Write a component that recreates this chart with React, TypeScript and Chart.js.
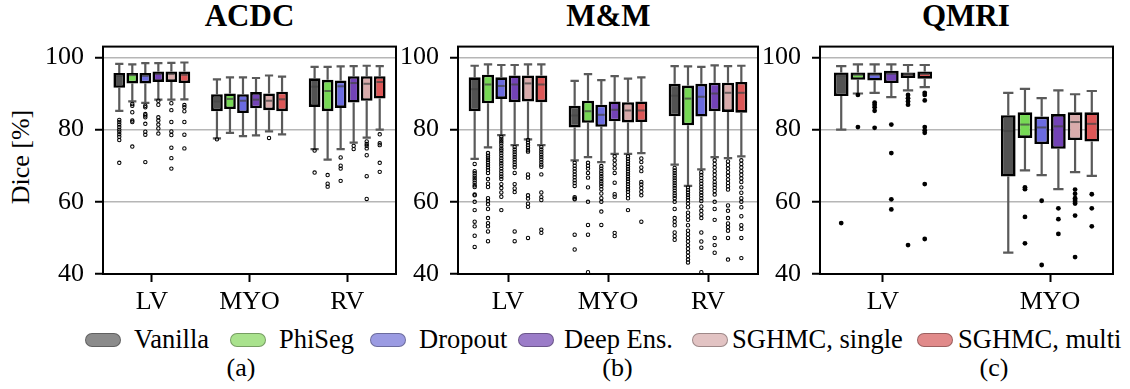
import React, { useEffect, useRef } from 'react';
import { Chart, registerables } from 'chart.js';

Chart.register(...registerables);

// ---------------- data ----------------
const seriesNames = ['Vanilla', 'PhiSeg', 'Dropout', 'Deep Ens.', 'SGHMC, single', 'SGHMC, multi'];
const yTickValues = [40, 60, 80, 100];

// ACDC (per series: [LV, MYO, RV])
const acdcCategories = ['LV', 'MYO', 'RV'];
const acdcPositions = [0, 1, 2];
const acdcWhiskerHigh = [
  [98.2, 93.9, 97.4], [98.1, 94.5, 97.4], [98.4, 94.5, 97.5],
  [98.4, 94.3, 97.6], [98.5, 95.0, 97.7], [98.6, 94.7, 97.6],
];
const acdcQ3 = [
  [95.7, 89.8, 94.2], [95.7, 90.0, 93.8], [95.7, 89.8, 93.6],
  [96.1, 90.4, 94.8], [96.1, 90.0, 94.8], [96.1, 90.5, 94.8],
];
const acdcMedian = [
  [94.9, 87.8, 91.9], [95.1, 88.5, 90.7], [94.9, 88.0, 92.0],
  [95.4, 88.3, 92.9], [95.4, 88.0, 92.7], [95.2, 88.4, 93.2],
];
const acdcQ1 = [
  [91.6, 85.1, 86.3], [92.8, 85.7, 85.1], [92.8, 84.6, 86.0],
  [93.2, 85.9, 87.5], [93.2, 85.4, 88.0], [92.9, 85.1, 88.6],
];
const acdcWhiskerLow = [
  [85.2, 77.6, 74.6], [87.8, 79.1, 71.7], [87.4, 78.2, 74.6],
  [88.3, 78.4, 76.4], [88.3, 79.5, 77.8], [88.4, 78.7, 80.0],
];
const acdcOutliers = [
  [[82.7, 82.1, 81.4, 80.7, 80.0, 79.4, 78.7, 78.0, 77.1, 70.8], [77.3], [74.2, 68.1]],
  [[87.1, 86.6, 84.8, 82.5, 82.1, 75.3], [], [67.4, 65.0, 64.2]],
  [[86.6, 86.2, 84.3, 83.9, 83.4, 81.6, 79.4, 78.6, 71.0], [], [72.3, 70.0, 69.2, 65.8]],
  [[88.0, 86.9, 83.4, 82.5, 81.4, 80.3, 78.9], [], [75.5, 74.6]],
  [[87.3, 85.4, 82.1, 79.5, 78.5, 75.0, 72.1, 69.2], [77.7], [76.7, 76.0, 75.5, 74.8, 72.9, 67.1, 60.8]],
  [[86.8, 86.2, 85.1, 82.1, 78.6, 74.8], [], [78.7, 76.2, 75.7, 70.8, 68.3]],
];

// M&M (per series: [LV, MYO, RV])
const mmCategories = ['LV', 'MYO', 'RV'];
const mmPositions = [0, 1, 2];
const mmWhiskerHigh = [
  [97.7, 93.5, 97.6], [98.1, 95.4, 97.5], [97.9, 93.7, 97.4],
  [97.9, 94.8, 97.8], [98.1, 94.1, 97.6], [98.1, 94.5, 97.7],
];
const mmQ3 = [
  [94.5, 86.6, 92.7], [95.2, 88.0, 92.2], [94.5, 86.9, 92.7],
  [95.0, 87.8, 93.0], [95.0, 87.6, 93.0], [95.0, 87.8, 93.2],
];
const mmMedian = [
  [91.2, 83.9, 89.4], [92.5, 85.1, 88.6], [92.1, 84.1, 89.1],
  [92.5, 85.5, 90.0], [92.8, 85.3, 90.2], [92.5, 85.3, 90.2],
];
const mmQ1 = [
  [85.1, 80.6, 83.7], [87.3, 81.9, 81.2], [88.5, 80.8, 83.6],
  [87.6, 82.3, 85.1], [87.8, 82.0, 84.9], [87.6, 82.1, 84.7],
];
const mmWhiskerLow = [
  [71.9, 71.5, 70.3], [75.1, 72.4, 64.4], [78.5, 71.0, 69.0],
  [75.7, 73.3, 72.4], [77.3, 73.3, 72.1], [75.7, 73.5, 72.6],
];
const mmOutliers = [
  [
    [70.5, 68.5, 67.9, 67.2, 66.6, 66.0, 65.3, 64.6, 64.1, 62.0, 61.8, 60.0, 57.7, 54.5, 53.2, 50.6, 47.5],
    [70.8, 70.0, 69.2, 68.4, 67.6, 66.8, 66.0, 65.2, 64.4, 61.3, 60.9, 60.7, 50.9, 46.8],
    [69.4, 68.7, 68.0, 67.3, 66.6, 65.9, 65.2, 64.5, 63.8, 63.1, 62.4, 61.7, 61.0, 60.0, 58.0, 55.5, 54.5, 53.5, 51.5, 50.5, 49.5],
  ],
  [
    [73.5, 72.8, 72.2, 71.6, 70.9, 70.2, 69.5, 68.8, 68.0, 66.3, 65.0, 64.1, 61.0, 60.2, 59.3, 58.0, 55.5, 54.1, 53.2, 51.8, 49.1],
    [70.8, 70.0, 69.2, 68.0, 66.7, 64.0, 60.0, 53.6, 50.9, 40.5],
    [64.0, 63.3, 62.6, 61.9, 61.2, 60.5, 59.5, 58.5, 57.0, 56.0, 55.0, 53.5, 52.0, 51.0, 50.0, 49.0, 48.0, 47.0, 46.0, 45.0, 44.0, 43.2],
  ],
  [
    [78.0, 77.4, 76.8, 76.2, 75.5, 74.8, 74.2, 73.5, 72.8, 72.1, 71.4, 70.7, 70.0, 69.2, 68.5, 67.7, 67.0, 66.3, 64.9, 63.8, 62.6, 61.4, 57.7],
    [69.9, 69.2, 68.5, 67.8, 67.1, 66.4, 65.7, 65.0, 64.3, 63.5, 62.3, 61.0, 60.0, 57.3, 53.6],
    [68.2, 67.4, 66.6, 65.8, 65.0, 64.2, 63.4, 62.6, 61.8, 61.0, 60.2, 58.7, 57.5, 56.5, 55.5, 51.5, 49.0, 47.3, 40.5],
  ],
  [
    [75.2, 74.5, 73.8, 73.1, 72.4, 71.7, 71.0, 70.3, 69.6, 68.0, 64.9, 63.7, 62.7, 51.8, 49.1],
    [72.6, 71.5, 70.4, 69.3, 68.0, 65.3, 62.1, 61.4, 51.4, 50.5],
    [71.5, 70.5, 69.5, 68.5, 67.5, 66.5, 65.5, 64.7, 63.9, 63.0, 62.0, 60.0, 58.0, 55.0, 50.0, 48.0, 45.9],
  ],
  [
    [77.1, 76.4, 75.7, 75.0, 74.3, 73.9, 67.6, 66.7, 61.8, 60.9, 59.5, 58.6, 50.0],
    [72.6, 71.9, 71.2, 70.5, 69.8, 69.1, 68.4, 67.7, 67.0, 66.3, 65.6, 64.9, 64.2, 63.5, 62.8, 61.9, 61.0, 57.7],
    [71.2, 70.2, 69.2, 68.2, 67.2, 66.2, 65.2, 64.3, 63.4, 59.0, 57.5, 55.5, 54.0, 53.0, 52.0, 50.0, 44.0],
  ],
  [
    [75.2, 74.5, 73.8, 73.1, 72.4, 71.7, 71.0, 70.3, 69.7, 67.6, 62.6, 61.3, 60.5, 52.3, 51.4],
    [72.0, 71.0, 69.5, 68.5, 65.5, 64.8, 63.8, 62.8, 61.8, 54.5],
    [71.5, 70.5, 69.5, 68.5, 67.5, 66.5, 65.5, 64.0, 62.5, 61.0, 60.0, 58.5, 56.0, 53.5, 52.5, 50.0, 44.4],
  ],
];

// QMRI (per series: [LV, MYO])
const qmriCategories = ['LV', 'MYO'];
const qmriPositions = [0, 1];
const qmriWhiskerHigh = [[97.6, 90.2], [98.1, 91.3], [98.1, 88.7], [98.1, 90.9], [97.9, 89.8], [97.9, 90.7]];
const qmriQ3 = [[95.8, 84.0], [95.8, 84.8], [95.8, 83.6], [96.3, 84.3], [95.8, 84.8], [96.1, 84.8]];
const qmriMedian = [[95.0, 79.6], [95.2, 81.4], [95.2, 80.6], [95.5, 80.9], [95.4, 82.1], [95.4, 81.6]];
const qmriQ1 = [[89.3, 67.0], [93.8, 77.7], [93.6, 76.0], [92.9, 74.7], [94.3, 77.1], [94.1, 76.7]];
const qmriWhiskerLow = [[80.0, 45.9], [90.0, 68.7], [90.2, 67.4], [89.0, 63.5], [90.9, 68.2], [91.8, 67.2]];
const qmriOutliers = [
  [[54.1], []],
  [[89.6, 80.7], [64.0, 63.5, 55.8, 48.5]],
  [[87.5, 86.9, 86.2, 85.2, 80.5], [60.3, 42.5]],
  [[81.4, 73.5, 60.7, 57.9], [58.2, 55.2, 51.1]],
  [[89.6, 88.7, 87.8, 86.9, 48.0], [63.4, 62.2, 61.0, 60.5, 60.0, 59.5, 56.2, 44.7]],
  [[90.2, 89.6, 88.1, 80.7, 79.8, 79.1, 64.9, 49.7], [62.1, 58.2, 53.2]],
];

// ---------------- styles ----------------
const FONT = "'Liberation Serif', 'Times New Roman', serif";
const boxColors = ['#525252', '#77d955', '#6b6be0', '#7343b6', '#d9abab', '#dc5757'];
const legendColors = ['#8b8b8b', '#a9e28d', '#9b9be2', '#9b7cc8', '#e2c3c3', '#e18a8a'];

type PanelDef = {
  title: string;
  tag: string;
  categories: string[];
  positions: number[];
  low: number[][];
  q1: number[][];
  med: number[][];
  q3: number[][];
  high: number[][];
  outliers: number[][][];
  xMin: number;
  xMax: number;
  catPct: number;
  barPct: number;
  filled: boolean;
  plotLeft: number;
  plotRight: number;
  titleCenter: number;
  tagCenter: number;
};

const panels: PanelDef[] = [
  {
    title: 'ACDC', tag: '(a)', categories: acdcCategories, positions: acdcPositions,
    low: acdcWhiskerLow, q1: acdcQ1, med: acdcMedian, q3: acdcQ3, high: acdcWhiskerHigh, outliers: acdcOutliers,
    xMin: -0.5, xMax: 2.5, catPct: 0.8, barPct: 0.9, filled: false,
    plotLeft: 103, plotRight: 396, titleCenter: 249.5, tagCenter: 241,
  },
  {
    title: 'M&M', tag: '(b)', categories: mmCategories, positions: mmPositions,
    low: mmWhiskerLow, q1: mmQ1, med: mmMedian, q3: mmQ3, high: mmWhiskerHigh, outliers: mmOutliers,
    xMin: -0.5, xMax: 2.5, catPct: 0.8, barPct: 0.9, filled: false,
    plotLeft: 458, plotRight: 758, titleCenter: 608.3, tagCenter: 617.5,
  },
  {
    title: 'QMRI', tag: '(c)', categories: qmriCategories, positions: qmriPositions,
    low: qmriWhiskerLow, q1: qmriQ1, med: qmriMedian, q3: qmriQ3, high: qmriWhiskerHigh, outliers: qmriOutliers,
    xMin: -0.377, xMax: 1.377, catPct: 0.6, barPct: 0.88, filled: true,
    plotLeft: 820, plotRight: 1113, titleCenter: 965.8, tagCenter: 994,
  },
];

const CANVAS_TOP = 20;
const PLOT_TOP = 41;
const PLOT_BOTTOM = 274;
const Y_AXIS_W = 65;
const X_AXIS_H = 50;
const PAD_RIGHT = 4;
const BOX_BORDER = 2.6;

function makeBoxPlugin(p: PanelDef) {
  return {
    id: 'boxExtras',
    beforeDatasetsDraw(chart: any) {
      const ctx = chart.ctx;
      const ys = chart.scales.y;
      ctx.save();
      ctx.strokeStyle = '#5a5a5a';
      ctx.lineWidth = 2.2;
      p.q1.forEach((row, i) => {
        const meta = chart.getDatasetMeta(i);
        row.forEach((v, j) => {
          const el = meta.data[j];
          if (!el) return;
          const x = el.x;
          const cw = el.width * 0.7;
          const yl = ys.getPixelForValue(p.low[i][j]);
          const yq1 = ys.getPixelForValue(v);
          const yq3 = ys.getPixelForValue(p.q3[i][j]);
          const yh = ys.getPixelForValue(p.high[i][j]);
          ctx.beginPath();
          ctx.moveTo(x, yq1); ctx.lineTo(x, yl);
          ctx.moveTo(x, yq3); ctx.lineTo(x, yh);
          ctx.moveTo(x - cw / 2, yl); ctx.lineTo(x + cw / 2, yl);
          ctx.moveTo(x - cw / 2, yh); ctx.lineTo(x + cw / 2, yh);
          ctx.stroke();
        });
      });
      ctx.restore();
    },
    afterDatasetsDraw(chart: any) {
      const ctx = chart.ctx;
      const ys = chart.scales.y;
      const area = chart.chartArea;
      ctx.save();
      // medians
      ctx.strokeStyle = 'rgba(70,70,70,0.75)';
      ctx.lineWidth = 2;
      p.med.forEach((row, i) => {
        const meta = chart.getDatasetMeta(i);
        row.forEach((v, j) => {
          const el = meta.data[j];
          if (!el) return;
          const y = ys.getPixelForValue(v);
          ctx.beginPath();
          ctx.moveTo(el.x - el.width / 2 + BOX_BORDER, y);
          ctx.lineTo(el.x + el.width / 2 - BOX_BORDER, y);
          ctx.stroke();
        });
      });
      // outliers
      p.outliers.forEach((perCat, i) => {
        const meta = chart.getDatasetMeta(i);
        perCat.forEach((vals, j) => {
          const el = meta.data[j];
          if (!el) return;
          vals.forEach((v) => {
            const y = ys.getPixelForValue(v);
            ctx.beginPath();
            if (p.filled) {
              ctx.arc(el.x, y, 2.4, 0, Math.PI * 2);
              ctx.fillStyle = '#000';
              ctx.fill();
            } else {
              ctx.arc(el.x, y, 1.7, 0, Math.PI * 2);
              ctx.strokeStyle = '#000';
              ctx.lineWidth = 1.05;
              ctx.stroke();
            }
          });
        });
      });
      // frame
      ctx.strokeStyle = '#000';
      ctx.lineWidth = 2;
      ctx.strokeRect(area.left, area.top, area.right - area.left, area.bottom - area.top);
      ctx.restore();
    },
  };
}

function Panel({ p }: { p: PanelDef }) {
  const ref = useRef<HTMLCanvasElement | null>(null);
  const canvasLeft = p.plotLeft - Y_AXIS_W;
  const canvasWidth = p.plotRight - canvasLeft + PAD_RIGHT;
  const canvasHeight = PLOT_BOTTOM - CANVAS_TOP + X_AXIS_H;

  useEffect(() => {
    if (!ref.current) return;
    const datasets = seriesNames.map((name, i) => ({
      label: name,
      data: p.positions.map((pos, j) => ({ x: pos, y: [p.q1[i][j], p.q3[i][j]] })),
      backgroundColor: boxColors[i],
      borderColor: '#000',
      borderWidth: BOX_BORDER,
      borderSkipped: false,
      categoryPercentage: p.catPct,
      barPercentage: p.barPct,
    }));
    const chart = new Chart(ref.current, {
      type: 'bar',
      data: { datasets } as any,
      plugins: [makeBoxPlugin(p)],
      options: {
        animation: false,
        responsive: false,
        devicePixelRatio: 1,
        events: [],
        layout: { padding: { top: PLOT_TOP - CANVAS_TOP, right: PAD_RIGHT, left: 0, bottom: 0 } },
        plugins: { legend: { display: false }, tooltip: { enabled: false }, title: { display: false } },
        scales: {
          x: {
            type: 'linear',
            min: p.xMin,
            max: p.xMax,
            offset: false,
            border: { display: false },
            grid: {
              display: true, offset: false, drawOnChartArea: false, drawTicks: true,
              tickLength: 8, tickWidth: 2, tickColor: '#000',
            },
            afterBuildTicks: (axis: any) => {
              axis.ticks = p.positions.map((v) => ({ value: v }));
            },
            afterFit: (axis: any) => { axis.height = X_AXIS_H; },
            ticks: {
              padding: 5,
              color: '#000',
              font: { family: FONT, size: 26 },
              maxRotation: 0,
              autoSkip: false,
              callback: (_v: any, idx: number) => p.categories[idx],
            },
          },
          y: {
            type: 'linear',
            min: 40,
            max: 103,
            border: { display: false },
            grid: {
              color: '#b6b6b6', lineWidth: 1.5, drawTicks: true,
              tickLength: 8, tickWidth: 2, tickColor: '#000',
            },
            afterBuildTicks: (axis: any) => {
              axis.ticks = yTickValues.map((v) => ({ value: v }));
            },
            afterFit: (axis: any) => { axis.width = Y_AXIS_W; },
            ticks: {
              padding: 11,
              color: '#000',
              font: { family: FONT, size: 26 },
              callback: (v: any) => String(v),
            },
          },
        },
      } as any,
    });
    return () => chart.destroy();
  }, [p]);

  return (
    <>
      <div
        style={{
          position: 'absolute', left: p.titleCenter - 150, top: 0, width: 300, textAlign: 'center',
          fontFamily: FONT, fontWeight: 'bold', fontSize: 31, lineHeight: '31px', color: '#000',
        }}
      >
        {p.title}
      </div>
      <canvas
        ref={ref}
        width={canvasWidth}
        height={canvasHeight}
        style={{ position: 'absolute', left: canvasLeft, top: CANVAS_TOP, width: canvasWidth, height: canvasHeight }}
      />
      <div
        style={{
          position: 'absolute', left: p.tagCenter - 50, top: 355, width: 100, textAlign: 'center',
          fontFamily: FONT, fontSize: 26, lineHeight: '26px', color: '#000',
        }}
      >
        {p.tag}
      </div>
    </>
  );
}

const legendPatchLefts = [85, 230, 370, 518, 692, 917];
const legendTextLefts = [134, 279, 419, 564, 732, 958];

export default function App() {
  return (
    <div
      style={{
        position: 'absolute', left: 0, top: 0, width: 1130, height: 389, background: '#fff', overflow: 'hidden',
      }}
    >
      {panels.map((p) => (
        <Panel key={p.title} p={p} />
      ))}
      <div
        style={{
          position: 'absolute', left: 21 - 100, top: 157 - 13, width: 200, height: 26, textAlign: 'center',
          fontFamily: FONT, fontSize: 26, lineHeight: '26px', color: '#000', transform: 'rotate(-90deg)',
          whiteSpace: 'nowrap',
        }}
      >
        Dice [%]
      </div>
      {seriesNames.map((name, i) => (
        <React.Fragment key={name}>
          <div
            style={{
              position: 'absolute', left: legendPatchLefts[i], top: 333, width: 36, height: 14,
              borderRadius: 7, background: legendColors[i], border: '1px solid rgba(0,0,0,0.3)', boxSizing: 'border-box',
            }}
          />
          <div
            style={{
              position: 'absolute', left: legendTextLefts[i], top: 326, whiteSpace: 'nowrap',
              fontFamily: FONT, fontSize: 26.5, lineHeight: '26px', color: '#000',
            }}
          >
            {name}
          </div>
        </React.Fragment>
      ))}
    </div>
  );
}
